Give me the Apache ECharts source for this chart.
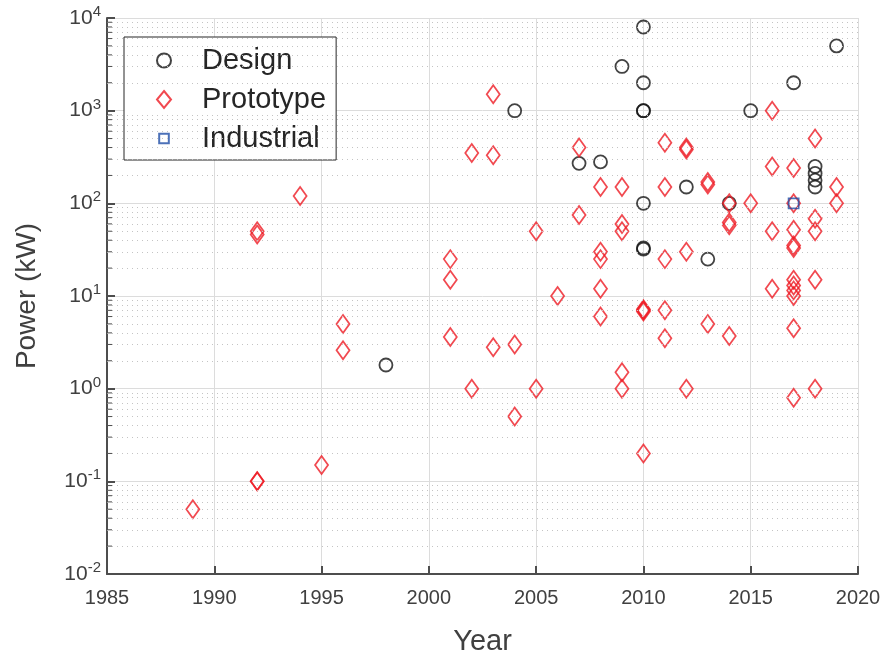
<!DOCTYPE html>
<html><head><meta charset="utf-8">
<script src="https://cdn.jsdelivr.net/npm/echarts@6/dist/echarts.min.js"></script>
<style>html,body{margin:0;padding:0;background:#fff;overflow:hidden}#c{width:888px;height:661px}</style>
</head><body><div id="c"></div>
<script>
// ---- data ----
const designYear  = [1998,2004,2007,2008,2009,2010,2010,2010,2010,2010,2010,2010,2012,2013,2014,2015,2017,2018,2018,2018,2018,2019];
const designPower = [1.8,1000,270,280,3000,8000,2000,1000,1000,100,33,32,150,25,100,1000,2000,250,210,178,150,5000];

const protoYear  = [1989,1992,1992,1992,1992,1994,1995,1996,1996,2001,2001,2001,2002,2002,2003,2003,2003,2004,2004,2005,2005,2006,2007,2007,
                    2008,2008,2008,2008,2008,2009,2009,2009,2009,2009,2010,2010,2010,2010,2011,2011,2011,2011,2011,2012,2012,2012,2012,
                    2013,2013,2013,2014,2014,2014,2014,2015,2016,2016,2016,2016,
                    2017,2017,2017,2017,2017,2017,2017,2017,2017,2017,2017,2018,2018,2018,2018,2018,2019,2019];
const protoPower = [0.05,50,46,0.1,0.1,120,0.15,5,2.6,25,15,3.6,350,1,1500,330,2.8,3,0.5,50,1,10,400,75,
                    150,30,25,12,6,150,60,50,1.5,1,7.2,7,6.8,0.2,450,150,25,7,3.5,400,380,30,1,
                    170,160,5,100,62,58,3.7,100,1000,250,50,12,
                    240,100,52,35,33,15,13,11.5,10,4.5,0.8,500,68,50,15,1,150,100];

const industrialYear  = [2017];
const industrialPower = [100];

const xTickYears = [1985,1990,1995,2000,2005,2010,2015,2020];
const yDecades   = [-2,-1,0,1,2,3,4];

// ---- helpers ----
const FONT = '"Liberation Sans", Arial, Helvetica, sans-serif';
const zip = (xs, ys) => xs.map((x, i) => [x, ys[i]]);
const minorVals = [];
for (let e = yDecades[0]; e < yDecades[yDecades.length - 1]; e++)
  for (let m = 2; m <= 9; m++) minorVals.push(+(m * Math.pow(10, e)).toPrecision(3));

const chart = echarts.init(document.getElementById('c'), null, {renderer: 'canvas', width: 888, height: 661});
chart.setOption({
  animation: false,
  backgroundColor: '#fff',
  grid: {left: 107, top: 18, width: 751, height: 563, containLabel: false},
  xAxis: {
    type: 'value', min: xTickYears[0], max: xTickYears[xTickYears.length - 1], interval: 5,
    name: 'Year', nameLocation: 'middle', nameGap: 53,
    nameTextStyle: {fontSize: 29, color: '#404040', fontFamily: FONT},
    axisLine: {lineStyle: {color: '#4d4d4d', width: 2}},
    axisTick: {inside: true, length: 8, lineStyle: {color: '#4d4d4d', width: 2}},
    axisLabel: {fontSize: 20, color: '#404040', fontFamily: FONT, margin: 14, formatter: v => String(v)},
    splitLine: {show: true, lineStyle: {color: '#dcdcdc', width: 1}}
  },
  yAxis: {
    type: 'log', logBase: 10, min: Math.pow(10, yDecades[0]), max: Math.pow(10, yDecades[yDecades.length - 1]),
    splitNumber: 6,
    name: 'Power (kW)', nameLocation: 'middle', nameGap: 66,
    nameTextStyle: {fontSize: 28, color: '#404040', fontFamily: FONT},
    axisLine: {show: true, lineStyle: {color: '#4d4d4d', width: 2}},
    axisTick: {show: true, inside: true, length: 8, lineStyle: {color: '#4d4d4d', width: 2}},
    axisLabel: {
      margin: 6,
      formatter: v => { const e = Math.round(Math.log10(v)); return '{b|10}{s|' + e + '}'; },
      rich: {
        b: {fontSize: 21, color: '#404040', fontFamily: FONT},
        s: {fontSize: 15, color: '#404040', fontFamily: FONT, padding: [0, 0, 12, 0]}
      }
    },
    splitLine: {show: true, lineStyle: {color: '#dcdcdc', width: 1}}
  },
  legend: {
    data: [
      {name: 'Design'},
      {name: 'Prototype'},
      {name: 'Industrial', icon: 'path://M0,0M2.5,2.5H13.5V13.5H2.5ZM16,16'}
    ],
    orient: 'vertical', left: 124, top: 37,
    itemWidth: 14, itemHeight: 17, itemGap: 10,
    padding: [9, 10, 7, 32],
    borderColor: '#262626', borderWidth: 1, backgroundColor: '#fff',
    textStyle: {fontSize: 29, color: '#262626', fontFamily: FONT, padding: [0, 0, 0, 26]},
    selectedMode: false
  },
  series: [
    {
      type: 'line', data: [], silent: true, z: 1,
      markLine: {
        silent: true, symbol: ['none', 'none'], label: {show: false},
        lineStyle: {type: [1, 4], color: '#c4c4c4', width: 1},
        emphasis: {disabled: true},
        data: minorVals.map(v => ({yAxis: v}))
      }
    },
    {
      type: 'custom', silent: true, z: 5,
      data: minorVals.map(v => [xTickYears[0], v]),
      renderItem: (params, api) => {
        const p = api.coord([api.value(0), api.value(1)]);
        return {type: 'line', shape: {x1: p[0], y1: p[1], x2: p[0] + 5, y2: p[1]},
                style: {stroke: '#4d4d4d', lineWidth: 1}};
      }
    },
    {
      name: 'Design', type: 'scatter', z: 3,
      data: zip(designYear, designPower),
      symbol: 'circle', symbolSize: 13,
      itemStyle: {color: 'rgba(255,255,255,0)', borderColor: '#141414', borderWidth: 1.8},
      emphasis: {disabled: true}
    },
    {
      name: 'Prototype', type: 'scatter', z: 3,
      data: zip(protoYear, protoPower),
      symbol: 'diamond', symbolSize: [13, 18],
      itemStyle: {color: 'rgba(255,255,255,0)', borderColor: '#ee1c24', borderWidth: 1.8},
      emphasis: {disabled: true}
    },
    {
      name: 'Industrial', type: 'scatter', z: 4,
      data: zip(industrialYear, industrialPower),
      symbol: 'rect', symbolSize: 10,
      itemStyle: {color: 'rgba(255,255,255,0)', borderColor: '#1f4ea6', borderWidth: 1.8},
      emphasis: {disabled: true}
    }
  ]
});
</script>
</body></html>
